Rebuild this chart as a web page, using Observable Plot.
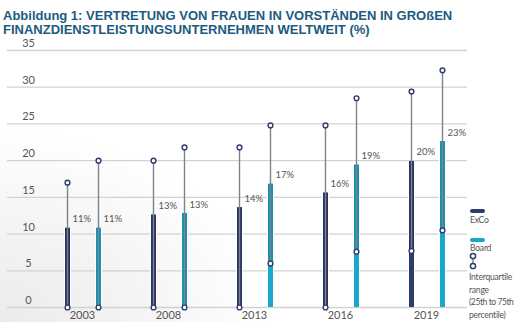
<!DOCTYPE html>
<html>
<head>
<meta charset="utf-8">
<script src="https://cdn.jsdelivr.net/npm/d3@7"></script>
<script src="https://cdn.jsdelivr.net/npm/@observablehq/plot@0.6"></script>
<style>
  html, body { margin: 0; padding: 0; }
  body {
    width: 516px; height: 322px; position: relative; overflow: hidden;
    background: radial-gradient(ellipse 70% 80% at 0% 100%, #ebebeb 0%, #f6f6f6 45%, #ffffff 75%);
    font-family: Lato, "Open Sans", sans-serif;
  }
  .title {
    position: absolute; left: 3px;
    font-family: "Liberation Sans Narrow", "Liberation Sans", sans-serif;
    font-weight: bold; font-size: 13px; line-height: 13px;
    color: #1c5b80; white-space: nowrap;
  }
  #chart { position: absolute; left: 0; top: 30px; }
  .lg { position: absolute; font-size: 8.6px; letter-spacing: -0.25px; color: #555; white-space: nowrap; line-height: 12.7px; }
  .sw { position: absolute; width: 15px; height: 3.5px; border-radius: 2px; }
</style>
</head>
<body>
<div class="title" style="top:9px;">Abbildung 1: VERTRETUNG VON FRAUEN IN VORSTÄNDEN IN GROßEN</div>
<div class="title" style="top:23px;">FINANZDIENSTLEISTUNGSUNTERNEHMEN WELTWEIT (%)</div>
<div id="chart"></div>
<div class="sw" style="left:470px; top:209px; background:#2e3b6e;"></div>
<div class="lg" style="left:470px; top:214px;">ExCo</div>
<div class="sw" style="left:470px; top:238px; background:#1ba7c9;"></div>
<div class="lg" style="left:470px; top:242px;">Board</div>
<svg style="position:absolute; left:468px; top:252px;" width="10" height="18">
  <line x1="5" y1="4" x2="5" y2="14" stroke="#7d828c" stroke-width="1.5"/>
  <circle cx="5" cy="4" r="2.6" fill="#fff" stroke="#2e3b6e" stroke-width="1.5"/>
  <circle cx="5" cy="14" r="2.6" fill="#fff" stroke="#2e3b6e" stroke-width="1.5"/>
</svg>
<div class="lg" style="left:469px; top:271px;">Interquartile<br>range<br><span style="letter-spacing:-0.45px;">(25th to 75th</span><br>percentile)</div>
<script>
const years = ["2003", "2008", "2013", "2016", "2019"];
const excoValues = [10.8, 12.6, 13.6, 15.6, 19.9];
const boardValues = [10.8, 12.8, 16.8, 19.4, 22.6];
const excoLabels = ["11%", "13%", "14%", "16%", "20%"];
const boardLabels = ["11%", "13%", "17%", "19%", "23%"];
const excoLow = [0, 0, 0, 0, 7.7];
const excoHigh = [17.0, 20.0, 21.8, 24.8, 29.4];
const boardLow = [0, 0, 6.0, 7.6, 10.5];
const boardHigh = [20.0, 21.8, 24.8, 28.5, 32.3];
const yTicks = [0, 5, 10, 15, 20, 25, 30, 35];

const navy = "#2e3b6e", cyan = "#1ba7c9", grey = "#7d828c";
const exco = years.map((y, i) => ({year: y, v: excoValues[i], label: excoLabels[i], lo: excoLow[i], hi: excoHigh[i]}));
const board = years.map((y, i) => ({year: y, v: boardValues[i], label: boardLabels[i], lo: boardLow[i], hi: boardHigh[i]}));

function series(data, color, dx) {
  return [
    Plot.ruleX(data, {x: "year", y1: 0, y2: "v", stroke: "#ffffff", strokeWidth: 7, dx}),
    Plot.ruleX(data, {x: "year", y1: 0, y2: "v", stroke: color, strokeWidth: 5, dx}),
    Plot.ruleX(data, {x: "year", y1: "lo", y2: d => Math.min(d.v, d.hi), stroke: "#000", strokeOpacity: 0.12, strokeWidth: 5, dx}),
    Plot.ruleX(data, {x: "year", y1: "lo", y2: "hi", stroke: grey, strokeWidth: 1.4, dx}),
    Plot.dot(data, {x: "year", y: "lo", r: 2.4, fill: "#fff", stroke: navy, strokeWidth: 1.4, dx}),
    Plot.dot(data, {x: "year", y: "hi", r: 2.4, fill: "#fff", stroke: navy, strokeWidth: 1.4, dx}),
    Plot.text(data, {x: "year", y: "v", text: "label", dx: dx + 5, dy: -9, textAnchor: "start", fontSize: 9.5, fill: "#555"})
  ];
}

const chart = Plot.plot({
  width: 516, height: 292,
  marginTop: 20, marginBottom: 15, marginLeft: 7, marginRight: 49,
  style: {background: "transparent", fontFamily: "Lato, 'Open Sans', sans-serif", overflow: "visible"},
  x: {type: "band", domain: years, range: [38, 469], padding: 0, axis: null},
  y: {domain: [0, 35], axis: null},
  marks: [
    Plot.ruleY(yTicks, {stroke: "#d2d2d2", strokeWidth: 1.3}),
    Plot.text(yTicks, {y: d => d, text: d => String(d), frameAnchor: "left", dx: 21, dy: -7, textAnchor: "middle", fontSize: 11, fill: "#555"}),
    Plot.text(years, {x: d => d, text: d => d, frameAnchor: "bottom", dy: 8, lineAnchor: "middle", fontSize: 11, fill: "#555"}),
    ...series(exco, navy, -15),
    ...series(board, cyan, 16)
  ]
});
document.getElementById("chart").appendChild(chart);
</script>
</body>
</html>
